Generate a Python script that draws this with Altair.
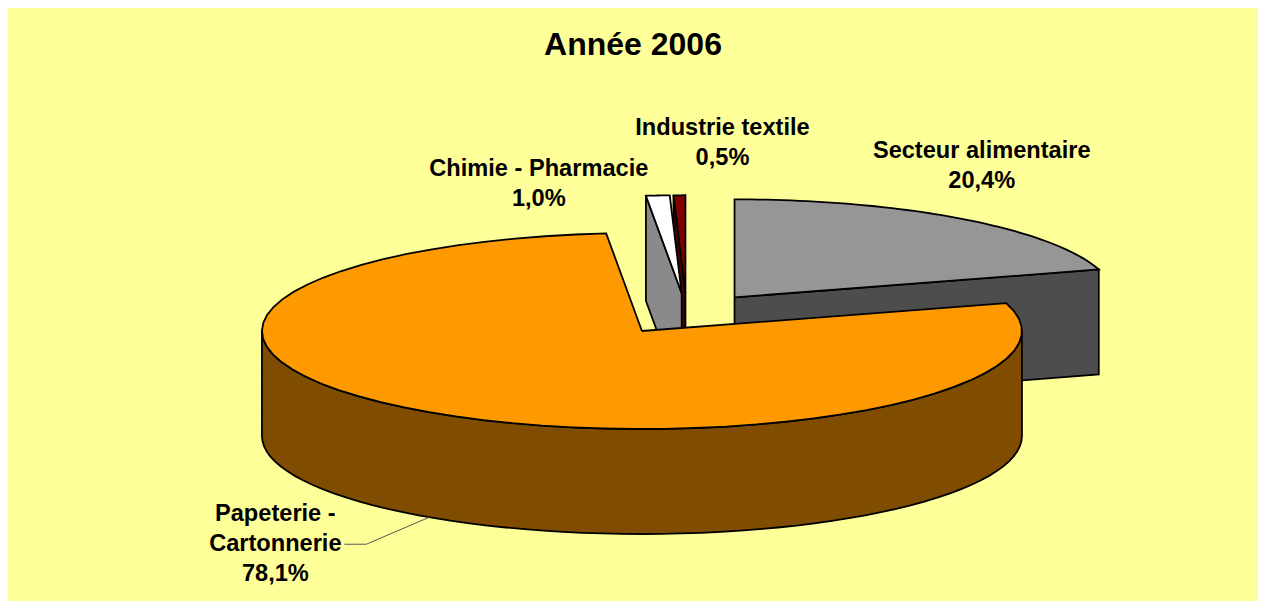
import math
import altair as alt
import pandas as pd

# ---- data -------------------------------------------------------------
categories = ["Secteur alimentaire", "Papeterie - Cartonnerie", "Chimie - Pharmacie", "Industrie textile"]
values = [20.4, 78.1, 1.0, 0.5]
label_names = ["Secteur alimentaire", "Papeterie -\nCartonnerie", "Chimie - Pharmacie", "Industrie textile"]
top_colors = ["#969696", "#FF9900", "#FFFFFF", "#800000"]
side_colors = ["#4D4D4D", "#7F4C00", "#8A8A8A", "#4A0000"]
title_text = "Année 2006"

# ---- geometry / style (screen-like coordinates) -----------------------
CX, CY = 686.7, 313.9      # pie centre
RX, RY = 380.0, 98.0       # ellipse radii of the tilted pie
H = 105.0                  # thickness
EXPLODE = 80.0             # explosion distance (ground plane)
N = 60                     # points per arc
K = RY / RX
FONT = "Liberation Sans"
# label offsets from the slice rim anchor (dx, dy)
label_offsets = {
    "Secteur alimentaire": (20, -61),
    "Papeterie - Cartonnerie": (-154, 4),
    "Chimie - Pharmacie": (-119, -20),
    "Industrie textile": (43, -60),
}

df = pd.DataFrame({
    "k": list(range(len(categories))),
    "cat": categories,
    "val": values,
    "name": label_names,
    "top": top_colors,
    "side": side_colors,
})
df["label"] = [n + "\n" + f"{v:.1f}".replace(".", ",") + "%" for n, v in zip(label_names, values)]

XS = alt.Scale(domain=[8, 1258], nice=False, zero=False)
YS = alt.Scale(domain=[8, 601], nice=False, zero=False, reverse=True)
X = alt.X("px:Q", scale=XS, axis=None)
Y = alt.Y("py:Q", scale=YS, axis=None)


def base(cat):
    return (
        alt.Chart(df)
        .transform_window(cum="sum(val)", sort=[alt.SortField("k")], frame=[None, 0])
        .transform_joinaggregate(total="sum(val)")
        .transform_calculate(a1="2*PI*datum.cum/datum.total")
        .transform_calculate(a0="2*PI*(datum.cum-datum.val)/datum.total")
        .transform_calculate(mid="(datum.a0+datum.a1)/2")
        .transform_calculate(ox=f"{CX}+{EXPLODE}*sin(datum.mid)")
        .transform_calculate(oy=f"{CY}-{EXPLODE}*{K}*cos(datum.mid)")
        .transform_filter(alt.datum.cat == cat)
    )


def top_layer(cat):
    return (
        base(cat)
        .transform_calculate(seq=f"sequence(0, {N + 3})")
        .transform_flatten(["seq"], as_=["i"])
        .transform_calculate(ang=f"datum.a0 + (datum.a1-datum.a0)*(datum.i-1)/{N}")
        .transform_calculate(isc=f"datum.i == 0 || datum.i == {N + 2}")
        .transform_calculate(px=f"datum.isc ? datum.ox : datum.ox + {RX}*sin(datum.ang)")
        .transform_calculate(py=f"datum.isc ? datum.oy : datum.oy - {RY}*cos(datum.ang)")
        .mark_line(stroke="black", strokeWidth=1.8, strokeJoin="miter")
        .encode(x=X, y=Y, order=alt.Order("i:Q"), fill=alt.Fill("top:N", scale=None))
    )


def wall_layer(cat):
    return (
        base(cat)
        .transform_calculate(w0="max(datum.a0, PI/2)")
        .transform_calculate(w1="min(datum.a1, 3*PI/2)")
        .transform_filter("datum.w1 > datum.w0")
        .transform_calculate(seq=f"sequence(0, {2 * N + 3})")
        .transform_flatten(["seq"], as_=["i"])
        .transform_calculate(
            t=f"datum.i <= {N} ? datum.i : (datum.i <= {2 * N + 1} ? {2 * N + 1} - datum.i : 0)"
        )
        .transform_calculate(dz=f"(datum.i > {N} && datum.i <= {2 * N + 1}) ? {H} : 0")
        .transform_calculate(ang=f"datum.w0 + (datum.w1-datum.w0)*datum.t/{N}")
        .transform_calculate(px=f"datum.ox + {RX}*sin(datum.ang)")
        .transform_calculate(py=f"datum.oy - {RY}*cos(datum.ang) + datum.dz")
        .mark_line(stroke="black", strokeWidth=1.8, strokeJoin="miter")
        .encode(x=X, y=Y, order=alt.Order("i:Q"), fill=alt.Fill("side:N", scale=None))
    )


def face_layer(cat):
    return (
        base(cat)
        .transform_calculate(fs="sequence(0, 2)")
        .transform_flatten(["fs"], as_=["f"])
        .transform_calculate(fa="datum.f == 0 ? datum.a0 : datum.a1")
        .transform_calculate(vis="datum.f == 0 ? sin(datum.a0) < -1e-6 : sin(datum.a1) > 1e-6")
        .transform_filter("datum.vis")
        .transform_calculate(vs="sequence(0, 5)")
        .transform_flatten(["vs"], as_=["v"])
        .transform_calculate(rim="datum.v == 1 || datum.v == 2")
        .transform_calculate(dz=f"(datum.v == 2 || datum.v == 3) ? {H} : 0")
        .transform_calculate(px=f"datum.ox + (datum.rim ? {RX}*sin(datum.fa) : 0)")
        .transform_calculate(py=f"datum.oy - (datum.rim ? {RY}*cos(datum.fa) : 0) + datum.dz")
        .mark_line(stroke="black", strokeWidth=1.8, strokeJoin="miter")
        .encode(x=X, y=Y, order=alt.Order("v:Q"), detail=alt.Detail("f:N"),
                fill=alt.Fill("side:N", scale=None))
    )


def anchor(ch):
    return (
        ch.transform_calculate(lx=f"datum.ox + {RX}*sin(datum.mid)")
        .transform_calculate(ly=f"datum.oy - {RY}*cos(datum.mid) + (cos(datum.mid) < 0 ? {H} : 0)")
    )


def label_layer(cat):
    dx, dy = label_offsets[cat]
    return (
        anchor(base(cat))
        .mark_text(font=FONT, fontSize=23.6, fontWeight="bold", color="black", align="center",
                   baseline="alphabetic", lineBreak="\n", lineHeight=30, dx=dx, dy=dy)
        .encode(x=alt.X("lx:Q", scale=XS, axis=None), y=alt.Y("ly:Q", scale=YS, axis=None),
                text="label:N")
    )


def leader_layer(cat):
    return (
        anchor(base(cat))
        .transform_calculate(seq="sequence(0, 3)")
        .transform_flatten(["seq"], as_=["i"])
        .transform_calculate(px="datum.lx + (datum.i == 0 ? 0 : (datum.i == 1 ? -63 : -85))")
        .transform_calculate(py="datum.ly + (datum.i == 0 ? 0 : 27)")
        .mark_line(stroke="#555555", strokeWidth=1)
        .encode(x=X, y=Y, order=alt.Order("i:Q"))
    )


# draw back-to-front: slices whose middle lies further back first
total = sum(values)
cum = 0.0
depth = {}
for c, v in zip(categories, values):
    mid = 2 * math.pi * (cum + v / 2) / total
    depth[c] = -math.cos(mid)
    cum += v
order = sorted(categories, key=lambda c: depth[c])

layers = []
for c in order:
    layers += [wall_layer(c), face_layer(c), top_layer(c)]
layers.append(leader_layer("Papeterie - Cartonnerie"))
for c in categories:
    layers.append(label_layer(c))

chart = alt.layer(*layers).properties(
    width=1250,
    height=593,
    padding=0,
    autosize=alt.AutoSizeParams(type="none"),
    background="#FFFF99",
    title=alt.TitleParams(title_text, font=FONT, fontSize=32, fontWeight="bold", color="black",
                          anchor="middle", baseline="alphabetic", offset=0, dy=79),
).configure_view(stroke=None)

chart.save("out.html", embed_options={"renderer": "svg", "actions": False})
